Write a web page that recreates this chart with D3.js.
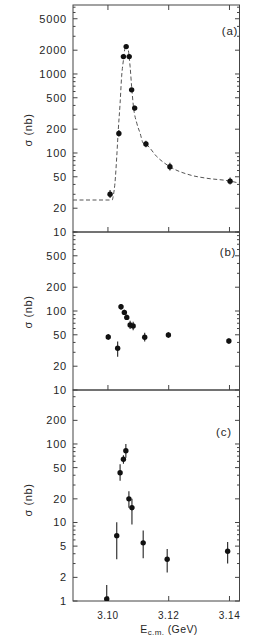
<!DOCTYPE html>
<html>
<head>
<meta charset="utf-8">
<script src="https://cdn.jsdelivr.net/npm/d3@7"></script>
<style>
  body { margin: 0; background: #fff; }
  text { font-family: "Liberation Sans", Arial, sans-serif; fill: #262626; }
</style>
</head>
<body>
<div id="chart"></div>
<script>
// energies (GeV)
const energyA = [3.1007, 3.1036, 3.1051, 3.1060, 3.1070, 3.1078, 3.1088, 3.1125, 3.1204, 3.1402];
const energyB = [3.1001, 3.1032, 3.1043, 3.1054, 3.1062, 3.1073, 3.1083, 3.1121, 3.1199, 3.1398];
const energyC = [3.0996, 3.1029, 3.1040, 3.1051, 3.1059, 3.1069, 3.1079, 3.1116, 3.1195, 3.1394];

// cross sections (nb) with error bar ends
const sigmaA = [30, 177, 1660, 2220, 1660, 630, 370, 130, 67, 44];
const lowA   = [27, 160, 1560, 2090, 1560, 590, 345, 118, 60, 40];
const highA  = [34, 195, 1760, 2350, 1760, 670, 395, 143, 75, 49];

const sigmaB = [47, 33.7, 113, 96, 83, 66.5, 64.6, 46.5, 49.7, 41.7];
const lowB   = [43, 26.4, 104, 89, 77, 59, 57, 41, 46, 38.5];
const highB  = [51, 41, 123, 104, 90, 75, 73, 53, 54, 45];

const sigmaC = [1.06, 6.8, 43, 64, 82, 20, 15.4, 5.5, 3.4, 4.3];
const lowC   = [1.0, 3.4, 34, 56, 67, 15.4, 9.4, 3.5, 2.3, 3.0];
const highC  = [1.6, 10.1, 55, 72, 100, 25, 20, 7.9, 4.6, 5.65];

// dashed fit curve in panel (a)
const curveE = [3.0885, 3.1007, 3.1014, 3.1018, 3.1023, 3.1029, 3.1034, 3.1040, 3.1045, 3.1051,
  3.1056, 3.1062, 3.1067, 3.1073, 3.1078, 3.1084, 3.1095, 3.1106, 3.1116, 3.1128, 3.1161,
  3.1204, 3.1270, 3.1325, 3.1399, 3.1433];
const curveS = [25.4, 25.4, 25.4, 29.4, 41.3, 89.7, 195, 426, 925, 1503,
  2115, 2330, 2015, 1236, 690, 385, 238, 177, 133, 126, 89.8,
  67, 52.7, 47.9, 44.3, 41.5];

const xTicks = [3.10, 3.12, 3.14];
const xTickLabels = ["3.10", "3.12", "3.14"];
const yLabelsA = [5000, 2000, 1000, 500, 200, 100, 50, 20, 10];
const yLabelsB = [500, 200, 100, 50, 20, 10];
const yLabelsC = [200, 100, 50, 20, 10, 5, 2, 1];

const W = 257, H = 642;
const left = 73, right = 239.5;

const svg = d3.select("#chart").append("svg")
  .attr("width", W).attr("height", H);

const x = d3.scaleLinear().domain([3.0885, 3.1433]).range([left, right]);

const panels = [
  {name: "(a)", top: 5, bottom: 232, domain: [10, 7464], labels: yLabelsA,
   e: energyA, s: sigmaA, lo: lowA, hi: highA, tag: [230, 35], titleY: 130, topTicks: true},
  {name: "(b)", top: 232, bottom: 390, domain: [10, 1000], labels: yLabelsB,
   e: energyB, s: sigmaB, lo: lowB, hi: highB, tag: [228, 256], titleY: 312},
  {name: "(c)", top: 390, bottom: 601, domain: [1, 487], labels: yLabelsC,
   e: energyC, s: sigmaC, lo: lowC, hi: highC, tag: [224, 436], titleY: 500}
];

panels.forEach(p => {
  const y = d3.scaleLog().domain(p.domain).range([p.bottom, p.top]);
  const g = svg.append("g");

  const clipId = "clip" + p.name.replace(/\W/g, "");
  svg.append("clipPath").attr("id", clipId)
    .append("rect").attr("x", left).attr("y", p.top)
    .attr("width", right - left).attr("height", p.bottom - p.top);

  // frame
  g.append("rect")
    .attr("x", left).attr("y", p.top)
    .attr("width", right - left).attr("height", p.bottom - p.top)
    .attr("fill", "none").attr("stroke", "#444").attr("stroke-width", 1);

  // minor + major y ticks, both sides, inward
  const lo = Math.floor(Math.log10(p.domain[0])), hiE = Math.ceil(Math.log10(p.domain[1]));
  const yt = [];
  for (let k = lo; k <= hiE; k++) {
    for (let m = 1; m <= 9; m++) {
      const v = m * Math.pow(10, k);
      if (v >= p.domain[0] && v <= p.domain[1]) yt.push(v);
    }
  }
  yt.forEach(v => {
    const len = (p.labels.indexOf(v) >= 0) ? 4.5 : 2.5;
    const yy = y(v);
    g.append("line").attr("x1", left).attr("x2", left + len)
      .attr("y1", yy).attr("y2", yy).attr("stroke", "#444");
    g.append("line").attr("x1", right).attr("x2", right - len)
      .attr("y1", yy).attr("y2", yy).attr("stroke", "#444");
  });

  // y labels
  p.labels.forEach(d => {
    g.append("text")
      .attr("x", 67).attr("y", y(d) + 4)
      .attr("text-anchor", "end")
      .attr("font-size", 11).attr("letter-spacing", 0.8)
      .text(d);
  });

  // x ticks at bottom (pointing up)
  xTicks.forEach(t => {
    g.append("line").attr("x1", x(t)).attr("x2", x(t))
      .attr("y1", p.bottom).attr("y2", p.bottom - 5).attr("stroke", "#444");
    if (p.topTicks) {
      g.append("line").attr("x1", x(t)).attr("x2", x(t))
        .attr("y1", p.top).attr("y2", p.top + 5).attr("stroke", "#444");
    }
  });

  // axis title
  g.append("text")
    .attr("transform", `translate(32,${p.titleY}) rotate(-90)`)
    .attr("text-anchor", "middle")
    .attr("font-size", 11).attr("letter-spacing", 0.6)
    .text("σ (nb)");

  // panel tag
  g.append("text")
    .attr("x", p.tag[0]).attr("y", p.tag[1])
    .attr("text-anchor", "middle")
    .attr("font-size", 11.5).attr("letter-spacing", 0.8)
    .text(p.name);

  const plot = g.append("g").attr("clip-path", `url(#${clipId})`);

  if (p.name === "(a)") {
    const line = d3.line()
      .x((d, i) => x(curveE[i]))
      .y(d => y(d))
      .curve(d3.curveMonotoneX);
    plot.append("path")
      .attr("d", line(curveS))
      .attr("fill", "none")
      .attr("stroke", "#555")
      .attr("stroke-width", 1)
      .attr("stroke-dasharray", "4,2.5");
  }

  // error bars
  plot.selectAll(".err").data(p.s).enter().append("line")
    .attr("x1", (d, i) => x(p.e[i])).attr("x2", (d, i) => x(p.e[i]))
    .attr("y1", (d, i) => y(p.lo[i])).attr("y2", (d, i) => y(p.hi[i]))
    .attr("stroke", "#222").attr("stroke-width", 1.1);

  // points
  plot.selectAll(".pt").data(p.s).enter().append("circle")
    .attr("cx", (d, i) => x(p.e[i]))
    .attr("cy", d => y(d))
    .attr("r", 2.7)
    .attr("fill", "#111");
});

// x tick labels
svg.selectAll(".xlab").data(xTicks).enter().append("text")
  .attr("x", d => x(d)).attr("y", 619)
  .attr("text-anchor", "middle")
  .attr("font-size", 10).attr("letter-spacing", 0.5)
  .text((d, i) => xTickLabels[i]);

// x axis title with subscript
const xt = svg.append("text")
  .attr("x", 169).attr("y", 633)
  .attr("text-anchor", "middle")
  .attr("font-size", 10.5).attr("letter-spacing", 0.4);
xt.append("tspan").text("E");
xt.append("tspan").attr("font-size", 8).attr("dy", 2).text("c.m.");
xt.append("tspan").attr("dy", -2).text(" (GeV)");
</script>
</body>
</html>
